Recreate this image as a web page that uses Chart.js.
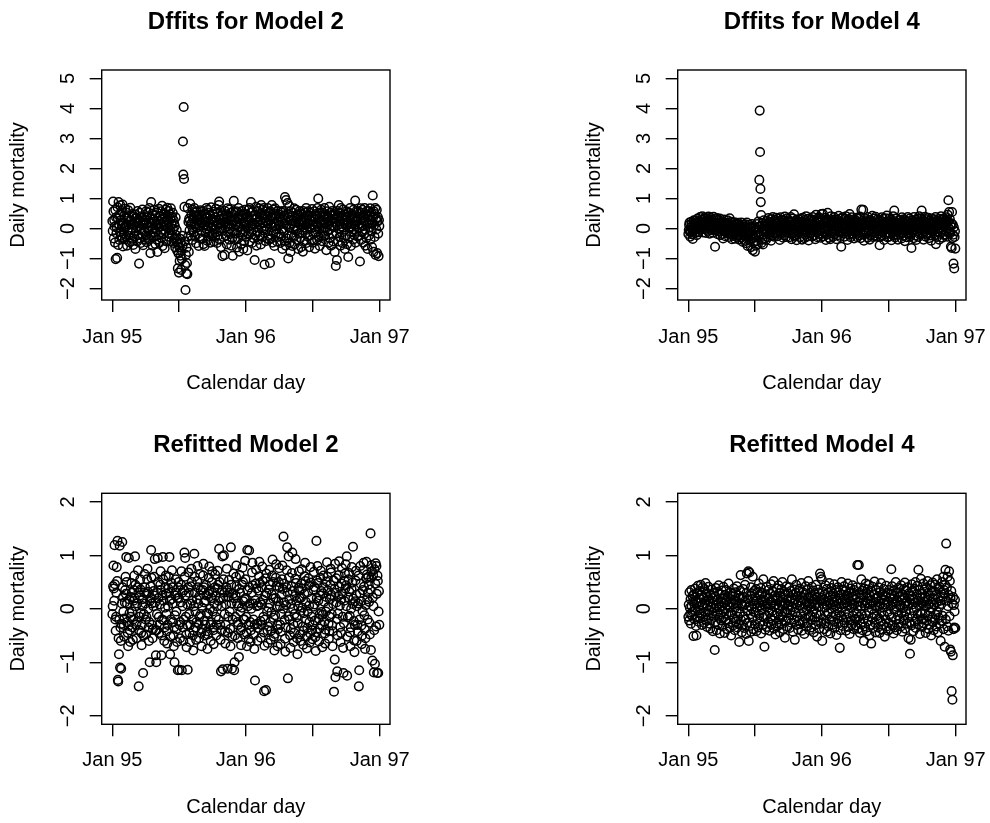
<!DOCTYPE html>
<html>
<head>
<meta charset="utf-8">
<script src="https://cdn.jsdelivr.net/npm/chart.js@4"></script>
<style>
html,body{margin:0;padding:0;background:#fff;overflow:hidden;}
#wrap{position:relative;width:990px;height:823px;overflow:hidden;background:#fff;}
canvas{position:absolute;}
</style>
</head>
<body>
<div id="wrap">
<canvas id="c1" width="492" height="411" style="left:0px;top:0px"></canvas>
<canvas id="c2" width="492" height="411" style="left:576px;top:0px"></canvas>
<canvas id="c3" width="492" height="412" style="left:0px;top:411px"></canvas>
<canvas id="c4" width="492" height="412" style="left:576px;top:411px"></canvas>
</div>
<script>
// ---- tick positions / labels (days since 1 Jan 1995) ----
const xTickDays = [0, 181, 365, 547, 731];
const xTickLabels = ['Jan 95', '', 'Jan 96', '', 'Jan 97'];
const yTicksTop = [-2, -1, 0, 1, 2, 3, 4, 5];
const yTickLabelsTop = ['\u22122', '\u22121', '0', '1', '2', '3', '4', '5'];
const yTicksBottom = [-2, -1, 0, 1, 2];
const yTickLabelsBottom = ['\u22122', '\u22121', '0', '1', '2'];
const panelTitles = ['Dffits for Model 2', 'Dffits for Model 4', 'Refitted Model 2', 'Refitted Model 4'];

// ---- daily values, one per calendar day ----
const dffitsM2_1995 = [
0.25,-0.08,0.9,0.57,-0.33,0.28,0.06,-0.47,0.62,-1.02,0.37,-0.16,0.03,-0.98,0.71,0.34,-0.55,0.88,0.15,-0.38,0.46,-0.12,0.77,0.27,-0.24,0.58,0.09,-0.31,0.8,-0.6,0.18,
-0.17,0.43,0.06,-0.36,0.66,0.04,-0.27,0.53,0.14,-0.57,0.33,-0.05,0.61,-0.24,0.12,0.38,-0.46,0.23,0.69,-0.13,0.27,-0.42,0.02,0.48,-0.34,0.18,-0.55,0.41,
0.13,-0.26,0.47,0.22,-0.68,0.34,-0.07,0.36,0.05,-0.43,0.58,0.17,-0.22,0.29,-1.17,0.08,0.52,-0.33,0.24,-0.48,0.41,-0.03,-0.18,0.63,0.27,-0.56,0.12,0.39,-0.09,0.21,-0.37,
0.28,-0.23,0.57,0.14,-0.46,0.37,0.03,-0.28,0.54,-0.06,0.19,0.68,-0.37,0.32,-0.82,0.07,0.88,0.16,-0.24,0.49,-0.57,-0.02,0.31,-0.13,0.62,0.22,-0.27,0.43,-0.52,0.09,
0.17,-0.37,0.53,-0.78,0.12,0.26,-0.23,0.66,0.04,-0.47,0.42,0.16,-0.12,0.57,-0.32,0.07,0.76,-0.58,0.33,-0.04,-0.17,0.48,0.23,-0.66,0.38,-0.08,0.63,0.14,-0.43,0.27,0.69,
0.36,0.04,-0.27,0.58,0.23,-0.18,0.47,-0.06,0.33,0.67,-0.42,0.13,0.38,-0.24,0.52,-0.03,-0.48,0.27,0.16,-0.34,0.08,-0.63,0.37,-0.22,-0.45,-0.05,-0.73,-0.36,-1.33,-0.52,
-0.83,-1.47,-0.62,-1.08,-0.34,-0.91,-0.47,-1.38,-0.73,-1.02,-0.24,-0.57,2.9,1.8,4.05,1.65,0.72,-0.43,-1.22,-2.05,-0.88,-1.5,-0.64,-1.15,-1.52,0.68,-0.27,0.22,-0.78,0.33,-0.06,
0.27,0.82,0.13,-0.23,0.47,0.18,-0.38,0.63,-0.04,0.32,-0.13,0.44,0.68,0.16,-0.27,0.53,0.07,-0.49,0.34,0.57,0.03,-0.18,0.41,0.24,-0.58,0.46,0.11,0.28,-0.33,0.61,0.19,
-0.07,0.43,0.17,-0.34,0.57,0.05,-0.52,0.28,0.13,-0.58,0.47,0.22,-0.16,0.37,0.68,-0.03,-0.41,0.33,0.62,0.08,-0.27,0.52,0.19,-0.12,0.44,-0.47,0.26,0.71,0.04,-0.23,
0.32,-0.17,0.48,0.07,-0.43,0.56,0.23,-0.04,-0.28,0.37,0.66,-0.12,0.27,-0.48,0.18,0.53,-0.24,0.13,0.78,0.9,-0.37,0.29,0.02,0.58,-0.62,0.17,0.42,-0.08,-0.92,0.47,0.12,
-0.28,0.37,0.22,-0.88,0.58,0.03,-0.24,0.47,0.32,-0.53,0.08,0.67,-0.13,0.42,0.16,-0.37,0.63,-0.02,-0.18,0.27,0.52,-0.57,0.13,0.38,-0.32,-0.91,0.24,0.57,0.92,-0.07,
0.27,-0.38,0.52,0.13,-0.17,0.57,0.24,-0.63,0.36,0.04,-0.33,0.68,0.08,-0.77,0.32,0.47,-0.13,0.18,-0.52,0.43,0.58,-0.03,-0.22,0.34,-0.68,0.49,0.12,-0.42,0.62,0.17,-0.08
];
const dffitsM2_1996 = [
0.23,0.47,-0.27,0.12,-0.73,0.38,0.04,0.62,-0.18,0.27,0.68,-0.43,0.08,0.53,0.88,-0.12,0.34,-0.48,0.17,0.57,-0.03,-0.32,0.42,0.13,-1.05,0.46,-0.23,0.31,0.72,-0.57,0.19,
0.37,-0.13,0.58,0.23,-0.37,0.67,0.12,-0.22,0.48,0.27,-0.53,0.78,0.03,0.43,-0.28,0.62,0.17,-0.07,0.68,0.33,-1.2,0.47,0.08,-0.42,0.57,0.23,-0.02,0.38,-0.33,
0.68,0.17,-0.23,0.52,-0.37,0.28,-1.15,0.57,0.13,-0.33,0.37,0.78,0.04,-0.47,0.32,0.63,-0.12,0.18,-0.58,0.42,0.67,0.07,-0.17,0.48,-0.03,-0.43,0.27,0.58,-0.28,0.23,0.47,
-0.17,0.38,0.13,-0.48,0.57,0.22,-0.27,0.53,-0.04,-0.68,0.32,0.58,-0.08,0.43,0.17,-0.42,1.05,0.27,-0.57,0.95,0.12,-0.33,0.48,0.85,-0.23,-1.0,0.37,0.03,0.75,-0.47,
0.27,-0.78,0.57,0.12,-0.23,0.42,-0.58,0.17,0.52,-0.03,-0.28,0.67,0.08,-0.52,0.37,0.23,-0.07,0.62,-0.38,0.33,0.02,0.47,-0.68,0.18,0.43,-0.17,0.58,0.13,-0.32,0.28,-0.62,
0.23,0.48,-0.13,0.27,-0.77,0.58,0.03,0.37,-0.42,0.18,0.53,-0.17,0.12,0.68,-0.48,0.32,-0.04,0.43,-0.27,0.57,0.17,-0.62,0.08,0.52,-0.23,0.28,0.02,-0.38,0.42,0.65,
0.13,-0.47,0.37,0.23,-0.18,0.57,0.04,-0.67,0.32,0.48,-0.13,0.17,0.43,-0.38,0.68,0.08,1.0,-0.27,0.33,-0.03,-0.58,0.52,0.18,-0.23,0.62,0.12,-0.42,0.27,0.53,-0.08,0.22,
-0.27,0.42,0.68,0.03,-0.23,0.47,0.17,-0.72,0.33,0.57,-0.08,0.13,0.38,-0.48,0.23,0.72,-0.03,-0.32,0.52,0.27,-0.57,0.08,0.43,0.58,-0.18,0.22,-0.43,0.48,0.04,0.32,-0.78,
0.18,0.47,-1.25,0.33,-0.17,-1.05,0.58,0.12,-0.43,0.37,0.78,-0.03,-0.28,0.52,0.23,-0.57,0.68,0.07,-0.13,0.42,-0.48,0.27,0.63,0.03,-0.32,0.47,0.18,-0.68,0.38,0.13,
-0.23,0.57,0.28,-0.52,0.13,0.37,-0.95,0.17,0.53,0.03,-0.27,0.68,0.07,-0.58,0.42,0.18,-0.13,0.48,0.32,-0.37,0.62,-0.04,-0.22,0.38,0.12,0.93,-0.47,0.27,0.58,-0.08,0.23,
0.37,-0.27,0.13,0.57,-0.23,0.48,0.03,-1.1,0.28,0.67,-0.38,0.17,0.52,-0.12,0.62,0.08,-0.47,0.43,0.27,-0.18,0.68,-0.03,-0.57,0.47,0.22,-0.32,0.58,0.12,-0.68,0.38,
0.17,0.58,-0.23,0.43,0.03,0.67,-0.37,0.27,0.52,-0.08,-0.62,0.18,1.1,0.37,-0.78,0.57,0.12,-0.28,0.48,0.68,-0.88,0.32,-0.03,0.62,-0.82,0.23,0.38,-0.17,-0.92,0.28,0.08
];
const dffitsM4_1995 = [
-0.18,-0.05,0.12,0.2,-0.08,-0.27,-0.12,0.05,0.22,0.15,-0.03,-0.2,-0.35,-0.1,0.14,0.27,0.08,-0.06,-0.15,0.03,0.25,0.18,-0.02,-0.22,0.06,0.33,0.17,0.04,-0.12,0.21,0.09,
0.24,0.38,0.15,-0.04,0.1,0.29,0.2,0.41,0.05,-0.13,0.16,0.32,0.12,-0.02,0.35,0.22,0.08,-0.15,0.13,0.27,0.34,0.06,-0.08,0.19,0.4,0.11,0.02,-0.17,
0.07,0.26,0.36,0.1,-0.06,0.18,0.3,0.04,-0.14,0.23,0.39,0.14,-0.03,0.09,-0.61,0.19,0.31,-0.07,0.12,0.35,0.02,-0.19,0.16,0.28,-0.09,0.06,0.21,0.33,-0.22,0.13,0.0,
-0.05,0.17,-0.18,0.24,0.08,-0.33,0.12,-0.02,0.3,-0.11,0.04,-0.26,0.2,-0.07,0.15,-0.16,0.09,0.27,-0.04,-0.14,0.18,-0.28,0.05,0.34,-0.12,-0.01,0.14,-0.2,0.22,-0.36,
-0.14,0.1,-0.25,-0.06,0.05,-0.19,0.21,-0.34,-0.08,0.13,-0.15,0.02,-0.28,0.16,-0.04,-0.21,0.19,-0.12,0.03,-0.37,-0.09,0.11,-0.23,0.06,-0.3,0.2,-0.05,-0.16,0.12,-0.45,0.0,
-0.22,-0.04,-0.38,0.06,-0.27,0.14,-0.12,-0.49,-0.07,0.2,-0.19,-0.58,0.03,-0.3,-0.09,-0.16,0.12,-0.41,-0.24,0.05,-0.62,-0.1,-0.33,0.15,-0.18,-0.72,-0.28,0.02,-0.44,-0.06,
-0.31,-0.77,0.04,-0.22,-0.57,-0.05,-0.42,0.15,-0.13,-0.52,0.23,-0.25,0.06,1.62,3.93,2.55,1.32,0.88,0.45,-0.48,0.08,-0.37,0.18,-0.53,-0.04,0.27,-0.19,0.1,-0.32,0.16,-0.02,
-0.38,0.07,0.26,-0.12,0.17,-0.03,-0.29,0.35,0.09,-0.2,0.22,-0.06,-0.14,0.31,-0.41,0.05,0.19,-0.24,0.01,0.38,-0.1,0.12,-0.27,0.24,-0.02,0.29,-0.17,0.08,0.36,-0.13,0.03,
0.18,-0.26,0.09,0.32,-0.07,0.02,0.24,-0.38,0.13,0.37,-0.18,-0.04,0.28,-0.12,0.21,0.06,-0.31,0.03,0.27,-0.23,0.14,0.4,-0.09,0.17,-0.28,-0.02,0.11,0.34,-0.15,0.23,
-0.08,0.27,0.04,-0.29,0.19,0.13,-0.17,0.38,-0.03,-0.36,0.22,0.08,-0.13,0.33,0.01,-0.22,0.47,0.12,-0.27,0.16,-0.05,-0.11,0.29,-0.39,0.07,0.24,-0.19,0.03,0.31,-0.09,0.14,
0.21,-0.28,0.12,-0.02,0.33,-0.16,0.07,-0.37,0.23,0.36,-0.08,0.04,0.18,-0.32,0.09,0.28,-0.21,-0.04,0.41,-0.12,0.16,-0.27,0.11,0.02,0.32,-0.4,0.19,-0.07,0.13,0.27,
-0.17,0.08,0.31,0.02,-0.26,0.22,0.38,-0.06,0.14,-0.23,0.27,-0.03,0.19,-0.36,0.1,0.46,-0.12,0.24,0.03,-0.29,0.34,0.07,-0.18,0.37,-0.01,0.21,-0.09,0.28,-0.31,0.12,0.48
];
const dffitsM4_1996 = [
0.13,-0.18,0.27,0.49,0.04,-0.26,0.21,0.09,-0.12,0.36,-0.03,-0.38,0.17,0.3,-0.21,0.07,0.52,0.02,-0.08,0.26,-0.31,0.19,0.11,-0.36,0.03,0.41,-0.16,0.08,0.28,-0.11,0.23,
-0.27,0.12,0.38,-0.02,-0.19,0.24,0.31,-0.07,0.1,-0.36,0.18,0.03,0.29,-0.22,0.08,0.42,-0.13,-0.01,0.22,-0.28,0.14,0.33,-0.61,0.05,0.2,-0.09,0.37,0.12,-0.17,
0.19,0.02,-0.27,0.33,0.09,-0.16,0.41,-0.04,-0.1,0.23,-0.38,0.27,0.13,-0.02,-0.21,0.31,0.48,-0.08,0.15,-0.29,0.2,0.04,0.37,-0.17,0.11,-0.06,0.29,0.01,-0.33,0.24,0.08,
-0.12,0.28,0.07,-0.18,0.36,0.03,-0.29,0.21,0.12,-0.07,0.32,-0.01,-0.23,0.4,0.09,-0.32,0.17,0.63,0.04,-0.13,0.26,-0.2,0.62,0.14,-0.41,0.19,-0.03,0.34,-0.09,0.11,
0.27,-0.17,0.04,0.22,-0.31,0.38,0.13,-0.08,0.19,-0.02,-0.37,0.29,0.08,-0.22,0.24,0.01,-0.13,0.42,-0.28,0.1,0.18,-0.04,-0.24,0.33,-0.11,0.14,0.39,-0.27,0.03,0.21,-0.07,
0.12,0.31,-0.18,0.03,0.24,-0.09,-0.56,0.28,0.08,-0.27,0.17,-0.02,0.37,-0.22,0.13,-0.11,0.32,0.04,-0.38,0.2,0.09,-0.19,0.34,-0.03,-0.13,0.23,0.43,-0.29,0.11,0.01,
0.22,-0.28,0.08,0.33,-0.04,-0.18,0.24,0.13,-0.39,0.29,0.02,-0.12,0.19,0.41,-0.23,0.07,0.6,-0.01,-0.3,0.21,0.12,-0.09,0.34,-0.21,0.04,0.18,-0.37,0.11,0.27,-0.03,-0.14,
0.29,0.03,-0.21,0.18,0.09,-0.33,0.37,-0.02,-0.13,0.22,-0.24,0.31,0.06,-0.04,-0.42,0.17,0.27,-0.08,0.12,-0.29,0.23,0.01,0.38,-0.18,0.08,-0.03,-0.12,0.33,-0.27,0.19,0.07,
-0.17,-0.65,0.21,0.03,0.27,-0.12,0.09,-0.32,0.38,-0.02,0.18,-0.23,0.12,0.29,-0.38,0.04,0.22,-0.09,0.32,0.11,-0.28,0.02,0.41,-0.19,0.14,0.2,-0.06,0.34,-0.01,0.6,
0.13,-0.18,0.28,0.02,-0.37,0.22,0.07,-0.12,0.39,-0.03,-0.27,0.19,0.31,-0.21,0.09,0.04,-0.14,0.36,0.17,-0.32,0.01,0.27,0.12,-0.23,0.21,-0.41,-0.02,0.33,-0.08,0.14,0.24,
-0.07,0.31,0.03,0.18,-0.22,0.12,0.38,-0.52,0.04,0.23,-0.28,0.27,0.08,-0.12,0.19,-0.02,-0.37,0.32,0.13,-0.18,0.22,0.41,-0.08,0.02,0.29,-0.31,0.09,0.17,-0.21,0.34,
0.12,-0.22,0.28,0.03,0.19,-0.08,0.37,0.11,-0.27,0.46,0.23,0.94,0.02,0.55,-0.18,0.31,-0.12,0.08,-0.6,0.17,-0.65,0.55,-0.32,0.13,-0.21,-1.17,0.04,-1.33,-0.28,-0.09,-0.67
];
const refitM2_1995 = [
-0.1,0.05,0.42,0.81,0.38,0.15,1.19,0.46,-0.2,-0.41,-0.15,0.3,0.78,0.52,1.27,-1.33,-1.36,-0.55,-0.85,-0.2,1.18,-1.1,-0.35,-0.6,-1.12,-0.28,0.1,1.25,0.4,0.22,-0.05,
-0.3,-0.52,-0.18,0.12,0.35,0.6,0.28,0.97,0.5,0.1,-0.25,-0.45,-0.7,-0.32,0.95,0.18,-0.08,-0.4,-0.62,-0.15,0.22,0.48,0.3,-0.05,-0.35,-0.58,-0.2,0.15,
0.35,0.62,0.2,0.98,0.45,0.05,-0.3,-0.55,-0.25,0.1,0.4,0.72,0.3,-1.45,-0.4,-0.15,0.25,0.55,0.36,-0.08,-0.45,-0.68,-0.3,0.05,0.18,-1.2,-0.5,-0.1,0.3,0.65,0.4,
0.1,-0.2,-0.48,-0.15,0.28,0.55,0.75,0.32,0.0,-0.35,-0.6,-0.25,-1.0,0.15,0.42,0.2,1.1,0.58,0.1,-0.3,-0.55,-0.38,0.05,0.33,0.6,0.25,0.93,0.12,-0.4,-0.87,
-1.0,-0.4,-0.1,0.3,0.95,0.5,0.2,-0.15,-0.45,-0.3,0.08,0.45,0.7,0.35,-0.87,-0.5,-0.2,0.25,0.97,0.55,0.15,-0.22,-0.6,-0.35,0.02,0.4,0.62,0.28,-0.1,-0.42,-0.65,
-0.3,0.05,0.38,0.6,0.3,0.97,0.15,-0.85,-0.52,-0.2,0.18,0.48,0.72,0.4,0.1,-0.25,-0.5,-0.7,-0.35,-1.0,-0.12,0.25,0.55,0.3,-0.05,-0.38,-0.62,0.2,-1.15,0.4,
0.5,0.2,-1.14,-0.3,-0.55,-0.25,0.12,0.45,0.7,-1.15,0.3,0.05,-0.35,-0.6,-0.2,0.35,1.05,0.6,0.95,0.25,-0.15,-0.48,-0.72,-0.3,0.08,-1.14,0.4,0.68,0.3,-0.1,-0.45,
-0.62,-0.3,0.1,0.42,0.75,0.5,0.15,-0.2,-0.5,-0.78,-0.4,0.05,1.03,0.6,0.3,-0.05,-0.35,-0.58,-0.25,0.18,0.52,0.8,0.4,0.1,-0.28,-0.55,-0.15,0.25,0.65,0.35,-0.1,
-0.45,-0.7,-0.38,0.02,0.35,0.62,0.84,0.4,0.12,-0.22,-0.5,-0.3,0.15,0.45,0.25,-0.08,-0.42,-0.75,-0.48,-0.1,0.28,0.58,0.79,0.33,0.0,-0.3,-0.6,-0.25,0.2,0.5,
0.7,0.3,-0.05,-0.4,-0.66,-0.35,0.1,0.4,0.64,0.25,-0.15,-0.5,-0.3,0.05,0.38,0.71,0.45,0.15,-0.2,1.12,0.5,0.2,-0.3,-0.58,-1.17,-0.4,0.05,0.35,0.98,-1.13,0.2,
0.55,1.0,0.3,-0.1,-0.42,-0.65,-0.3,0.08,0.4,0.75,0.35,-1.12,-0.45,-0.15,0.22,0.54,0.3,-0.05,-0.38,-0.7,1.15,0.45,0.1,-1.12,-0.52,-0.2,0.28,0.66,0.2,-1.15,
-1.0,-0.5,-0.15,0.25,0.6,0.81,0.42,0.1,-0.25,-0.55,-0.3,0.05,-0.9,0.37,0.63,0.3,-0.05,-0.4,-0.68,-0.35,0.02,0.45,0.77,0.5,0.14,-0.2,-0.48,-0.2,0.18,0.9,0.55
];
const refitM2_1996 = [
0.2,-0.15,-0.45,-0.7,1.1,0.35,0.05,-0.3,-0.57,1.09,0.4,0.1,-0.25,-0.62,-0.4,0.0,0.3,0.68,0.86,0.44,0.1,-0.2,-0.49,-0.75,-0.3,-1.34,0.16,0.47,0.73,0.38,0.05,
-0.28,-0.6,-0.36,0.06,0.34,0.61,0.88,0.48,0.12,-0.23,-0.54,-0.3,0.08,0.4,0.79,0.52,0.17,-0.15,-0.44,-1.54,-0.69,-0.2,0.25,0.57,-1.52,0.66,0.29,-0.05,-0.4,
-0.64,-0.33,0.02,0.36,0.73,0.45,0.1,-0.25,-0.58,-0.41,-0.06,0.27,0.62,0.92,0.5,0.19,-0.17,-0.52,-0.78,-0.47,-0.12,0.2,0.58,0.83,0.43,0.04,-0.3,-0.7,-0.38,0.14,0.5,
0.76,0.4,0.05,-0.3,-0.66,-0.43,-0.1,0.26,0.55,0.81,0.37,0.0,1.35,0.47,0.12,-0.21,-0.56,-0.8,-0.35,0.07,0.4,0.72,1.15,0.3,-1.3,-0.14,0.98,0.59,0.18,-0.2,
-0.5,-0.73,-0.38,0.09,0.42,0.67,1.05,0.33,0.0,-0.29,-0.62,-0.45,-0.1,0.24,0.56,0.93,0.48,0.15,-0.16,-0.55,-0.85,-0.27,0.05,0.39,0.7,0.34,0.2,-0.48,-0.6,-0.04,0.21,
0.47,0.74,0.38,0.02,-0.33,-0.67,-0.41,-0.08,0.28,0.61,0.86,0.52,0.13,-0.2,-0.52,-0.74,-0.36,-0.05,0.31,0.57,0.44,0.06,-0.25,-0.63,-0.46,0.78,0.49,0.19,-0.15,-0.4,
-0.57,-0.3,0.04,0.36,0.69,0.41,0.08,-0.22,-0.53,-0.79,-0.44,1.27,0.2,0.53,0.8,0.48,0.15,-0.18,-0.61,-0.37,-0.1,0.25,0.58,0.71,0.33,-0.06,-0.3,-0.72,-0.11,0.29,0.62,
0.4,0.13,-0.24,-0.46,-0.65,-0.39,-0.05,0.22,0.51,0.87,0.6,0.34,0.03,-0.28,-0.56,-0.42,-0.15,0.18,0.45,0.75,0.68,0.26,-0.1,-0.31,-0.7,-0.42,0.09,0.53,-1.55,0.37,-0.95,
0.84,-1.28,0.3,0.57,0.12,-0.19,-1.17,-0.5,-0.09,0.24,0.63,0.89,0.41,0.06,-0.34,-0.62,-0.45,0.18,0.47,0.76,0.28,-0.15,-0.73,-1.2,-0.27,0.15,0.52,0.66,0.38,0.83,
0.44,0.05,0.98,-1.25,-0.52,-0.16,0.21,0.55,0.67,0.32,-0.13,-0.44,-0.7,-0.35,0.0,0.37,0.78,0.49,0.09,1.16,0.19,-0.23,-0.59,-0.81,-0.3,0.14,0.53,0.71,0.26,-0.6,0.05,
-0.3,-0.42,0.1,0.62,-1.45,-1.15,-0.2,0.29,0.8,0.47,0.14,-0.31,-0.66,-0.5,-0.04,0.35,0.72,0.86,0.41,-0.12,-0.38,-0.75,-0.55,0.07,0.57,0.88,0.64,0.18,-0.2,0.3,
0.6,0.45,0.13,-0.26,-0.48,0.36,1.41,-0.77,0.58,0.82,0.7,-0.97,0.21,0.63,0.05,-1.19,-0.4,0.74,-1.03,0.47,0.85,-0.33,0.8,0.28,-1.2,0.62,0.52,-1.2,-0.05,0.33,-0.3
];
const refitM4_1995 = [
-0.15,0.08,-0.22,0.31,0.02,-0.1,0.18,-0.28,0.35,0.05,-0.12,0.24,-0.05,0.14,-0.51,0.27,0.09,-0.2,0.38,-0.03,0.16,-0.32,-0.5,0.11,0.29,-0.14,0.43,0.04,-0.24,0.2,-0.07,
0.33,-0.18,0.12,0.45,-0.09,0.26,-0.3,0.07,0.4,-0.15,0.21,0.03,-0.26,0.37,0.1,-0.06,0.48,-0.21,0.15,0.29,-0.34,0.06,0.22,-0.11,0.41,-0.02,0.18,-0.28,
0.13,-0.37,0.25,0.04,-0.19,0.36,-0.08,0.2,-0.42,0.11,0.3,-0.13,0.01,-0.77,0.23,-0.25,0.39,0.06,-0.4,0.17,-0.05,0.32,-0.29,0.09,0.44,-0.17,0.03,-0.46,0.27,-0.1,0.14,
-0.22,0.34,0.05,-0.33,0.19,-0.04,0.41,-0.16,0.1,-0.45,0.26,0.0,-0.2,0.35,-0.09,0.15,-0.38,0.22,0.07,-0.27,0.47,-0.12,0.03,-0.35,0.18,0.3,-0.07,-0.5,0.12,0.24,
-0.11,0.28,-0.31,0.09,0.38,-0.18,0.16,-0.4,0.02,0.31,-0.24,0.13,-0.05,0.42,-0.35,0.07,-0.15,0.25,-0.29,-0.62,0.2,-0.08,0.34,0.63,-0.21,0.1,-0.44,0.19,0.05,-0.3,0.37,
-0.14,0.22,-0.36,0.08,0.45,-0.2,0.12,-0.47,0.3,0.66,-0.03,-0.26,0.18,0.7,-0.6,0.05,0.68,-0.32,0.24,-0.1,0.4,-0.43,0.01,0.29,-0.17,0.6,-0.38,0.14,-0.06,0.33,
0.09,-0.29,0.21,-0.07,0.37,-0.42,0.15,0.03,-0.19,0.31,-0.35,0.11,0.47,-0.12,0.26,-0.24,0.06,0.39,-0.46,0.18,-0.02,0.3,-0.3,0.13,0.55,-0.16,0.08,-0.71,0.23,-0.39,0.04,
0.27,-0.13,0.41,-0.34,0.1,0.02,-0.25,0.35,-0.06,0.19,-0.41,0.28,0.07,-0.18,0.46,-0.3,0.12,-0.04,0.33,-0.22,0.16,0.52,-0.37,0.05,-0.13,0.25,-0.48,0.2,0.08,-0.27,0.38,
-0.09,0.18,-0.32,0.44,0.0,-0.2,0.3,-0.44,0.13,0.24,-0.11,0.37,-0.28,0.06,0.5,-0.15,0.21,-0.38,0.09,0.32,-0.05,-0.54,0.27,0.11,-0.23,0.42,-0.08,0.16,-0.34,0.04,
0.29,-0.17,0.07,0.4,-0.36,0.14,-0.03,0.33,-0.26,0.2,0.55,-0.12,0.03,-0.43,0.26,0.1,-0.2,0.36,-0.58,0.17,-0.07,0.3,0.45,-0.3,0.08,-0.14,0.24,-0.39,0.12,0.34,-0.22,
0.06,0.38,-0.29,0.15,-0.1,0.48,-0.41,0.2,0.01,-0.24,0.31,-0.06,0.16,-0.47,0.27,0.09,-0.18,0.42,-0.33,0.12,-0.02,0.35,-0.27,0.05,0.52,-0.15,0.22,-0.4,0.1,0.3,
-0.13,0.23,-0.35,0.04,0.41,-0.21,0.13,-0.05,0.34,-0.44,0.18,0.27,-0.16,0.07,-0.3,0.45,-0.09,0.22,-0.52,0.11,0.36,-0.24,0.03,0.29,-0.37,0.16,0.66,-0.11,0.6,-0.28,0.2
];
const refitM4_1996 = [
0.55,-0.6,0.09,0.32,-0.19,0.17,-0.38,0.26,0.02,-0.27,0.44,-0.12,0.14,0.37,-0.43,0.06,-0.08,0.3,-0.33,0.21,0.48,-0.2,0.1,-0.46,0.25,0.0,0.39,-0.15,0.18,-0.3,0.08,
0.28,-0.24,0.13,0.46,-0.36,0.05,0.22,-0.11,0.35,-0.49,0.16,0.01,-0.18,0.4,-0.28,0.1,0.31,-0.07,-0.73,0.19,-0.4,0.27,-0.14,0.5,0.03,-0.32,0.15,0.36,-0.21,
0.09,0.42,-0.26,0.18,-0.05,0.33,-0.41,0.12,0.25,-0.16,0.06,0.47,-0.34,0.2,-0.09,0.29,-0.47,0.14,0.38,-0.22,0.02,0.31,-0.3,0.1,0.44,-0.13,0.23,-0.38,0.07,0.35,-0.19,
0.17,-0.31,0.26,-0.08,0.4,-0.2,0.82,0.05,-0.37,0.13,0.82,-0.15,0.3,-0.45,0.21,0.04,-0.27,0.55,-0.1,0.34,-0.4,0.11,0.26,-0.19,-0.6,0.38,0.06,-0.33,0.15,0.47,
-0.12,0.29,-0.42,0.1,0.36,-0.23,0.19,-0.04,0.45,-0.5,0.08,0.24,-0.3,0.15,-0.65,0.33,0.0,-0.17,0.41,-0.36,0.12,0.27,-0.09,0.51,-0.26,0.06,-0.44,0.2,0.35,-0.14,0.03,
0.22,-0.35,0.13,0.4,-0.18,0.05,-0.45,0.31,0.1,-0.24,0.48,-0.07,0.19,-0.39,0.27,0.02,-0.3,0.37,-0.12,0.16,-0.52,0.25,0.08,-0.2,0.43,-0.33,0.11,0.3,-0.06,-0.41,
0.14,-0.27,0.35,-0.1,0.2,-0.38,0.06,0.28,0.74,-0.16,0.42,-0.31,0.09,0.19,-0.46,0.33,-0.02,0.24,-0.35,0.12,0.5,-0.21,0.04,-0.4,0.3,0.15,-0.13,0.39,-0.28,0.07,0.22,
-0.19,0.31,0.05,-0.33,0.44,-0.08,0.17,-0.43,0.26,0.01,-0.22,0.37,-0.12,0.21,0.49,-0.37,0.1,-0.05,0.34,-0.28,0.14,0.4,-0.17,0.06,-0.55,0.29,0.11,-0.25,-0.84,0.18,-0.58,
0.24,-0.31,0.46,-0.14,0.08,0.33,-0.42,0.19,-0.03,0.38,-0.24,0.12,0.5,-0.36,0.02,0.27,-0.19,0.43,-0.1,0.15,0.73,-0.29,0.06,0.35,-0.47,0.21,-0.08,0.56,-0.2,0.11,
-0.34,0.28,0.09,-0.18,0.47,-0.27,0.14,0.36,-0.09,0.22,-0.45,0.05,0.4,-0.22,0.17,0.52,-0.13,0.3,-0.38,0.08,0.25,-0.3,0.44,-0.05,0.13,-0.5,0.34,0.02,-0.16,0.49,-0.25,
0.18,-0.4,0.33,0.07,-0.21,0.45,-0.11,0.26,-0.33,0.12,0.55,-0.06,-0.44,0.2,0.37,-0.17,0.04,0.41,-0.28,0.15,-0.6,0.3,0.09,-0.23,0.5,-0.13,0.22,0.6,-0.38,0.35,
0.28,-0.71,0.45,0.73,-0.2,1.22,0.15,0.4,-0.33,0.6,0.05,-0.41,0.26,0.7,-0.14,0.52,-0.76,0.2,-0.8,0.33,-1.54,0.1,-1.7,-0.87,0.22,-0.38,0.07,-0.35,-0.05,0.17,-0.36
];

// ---- styling ----
const FONT = "'Liberation Sans', Arial, Helvetica, sans-serif";
Chart.defaults.font.family = FONT;
Chart.defaults.color = '#000';
const LW = 1.4;

const boxPlugin = {
  id: 'rbox',
  afterDraw(chart) {
    const {ctx, chartArea: a} = chart;
    ctx.save();
    ctx.strokeStyle = '#000';
    ctx.lineWidth = LW;
    ctx.strokeRect(a.left, a.top, a.right - a.left, a.bottom - a.top);
    ctx.restore();
  }
};

function makePanel(id, title, values, yMin, yMax, yTicks, yLabels, top) {
  const pts = values.map((v, i) => ({x: i, y: v}));
  const L = top
    ? {tTop: 7.9, tBot: 33.3, xH: 111, xPad: 13.5, xTitleBot: 15.3}
    : {tTop: 19.8, tBot: 33.7, xH: 98.7, xPad: 12, xTitleBot: 3.6};
  return new Chart(document.getElementById(id), {
    type: 'scatter',
    data: {datasets: [{
      data: pts,
      pointStyle: 'circle',
      pointRadius: 4.3,
      pointHoverRadius: 4.3,
      pointBorderWidth: 1.5,
      borderColor: '#000',
      backgroundColor: 'rgba(0,0,0,0)'
    }]},
    options: {
      responsive: false,
      animation: false,
      devicePixelRatio: 1,
      events: [],
      layout: {padding: {left: 0, right: 102, top: 0, bottom: 0}},
      plugins: {
        legend: {display: false},
        tooltip: {enabled: false},
        title: {
          display: true, text: title, fullSize: false, color: '#000',
          font: {size: 24, weight: 'bold'},
          padding: {top: L.tTop, bottom: L.tBot}
        }
      },
      scales: {
        x: {
          type: 'linear', min: -29.2, max: 759.2,
          afterBuildTicks: s => { s.ticks = xTickDays.map(v => ({value: v})); },
          ticks: {
            autoSkip: false, minRotation: 0, maxRotation: 0, padding: L.xPad,
            color: '#000', font: {size: 20},
            callback: (v, i) => xTickLabels[i]
          },
          grid: {display: true, drawOnChartArea: false, drawTicks: true, tickLength: 12, color: '#000', lineWidth: LW},
          border: {display: false},
          title: {display: true, text: 'Calendar day', color: '#000', font: {size: 20}, padding: {top: 0, bottom: L.xTitleBot}},
          afterFit: s => { s.height = L.xH; }
        },
        y: {
          type: 'linear', min: yMin, max: yMax,
          afterBuildTicks: s => { s.ticks = yTicks.map(v => ({value: v})); },
          ticks: {
            autoSkip: false, minRotation: 90, maxRotation: 90, crossAlign: 'center', padding: 10,
            color: '#000', font: {size: 20},
            callback: (v, i) => yLabels[i]
          },
          grid: {display: true, drawOnChartArea: false, drawTicks: true, tickLength: 12, color: '#000', lineWidth: LW},
          border: {display: false},
          title: {display: true, text: 'Daily mortality', color: '#000', font: {size: 20}, padding: {top: 6.3, bottom: 0}},
          afterFit: s => { s.width = 101.7; }
        }
      }
    },
    plugins: [boxPlugin]
  });
}

makePanel('c1', panelTitles[0], dffitsM2_1995.concat(dffitsM2_1996), -2.384, 5.284, yTicksTop, yTickLabelsTop, true);
makePanel('c2', panelTitles[1], dffitsM4_1995.concat(dffitsM4_1996), -2.384, 5.284, yTicksTop, yTickLabelsTop, true);
makePanel('c3', panelTitles[2], refitM2_1995.concat(refitM2_1996), -2.16, 2.16, yTicksBottom, yTickLabelsBottom, false);
makePanel('c4', panelTitles[3], refitM4_1995.concat(refitM4_1996), -2.16, 2.16, yTicksBottom, yTickLabelsBottom, false);
</script>
</body>
</html>
